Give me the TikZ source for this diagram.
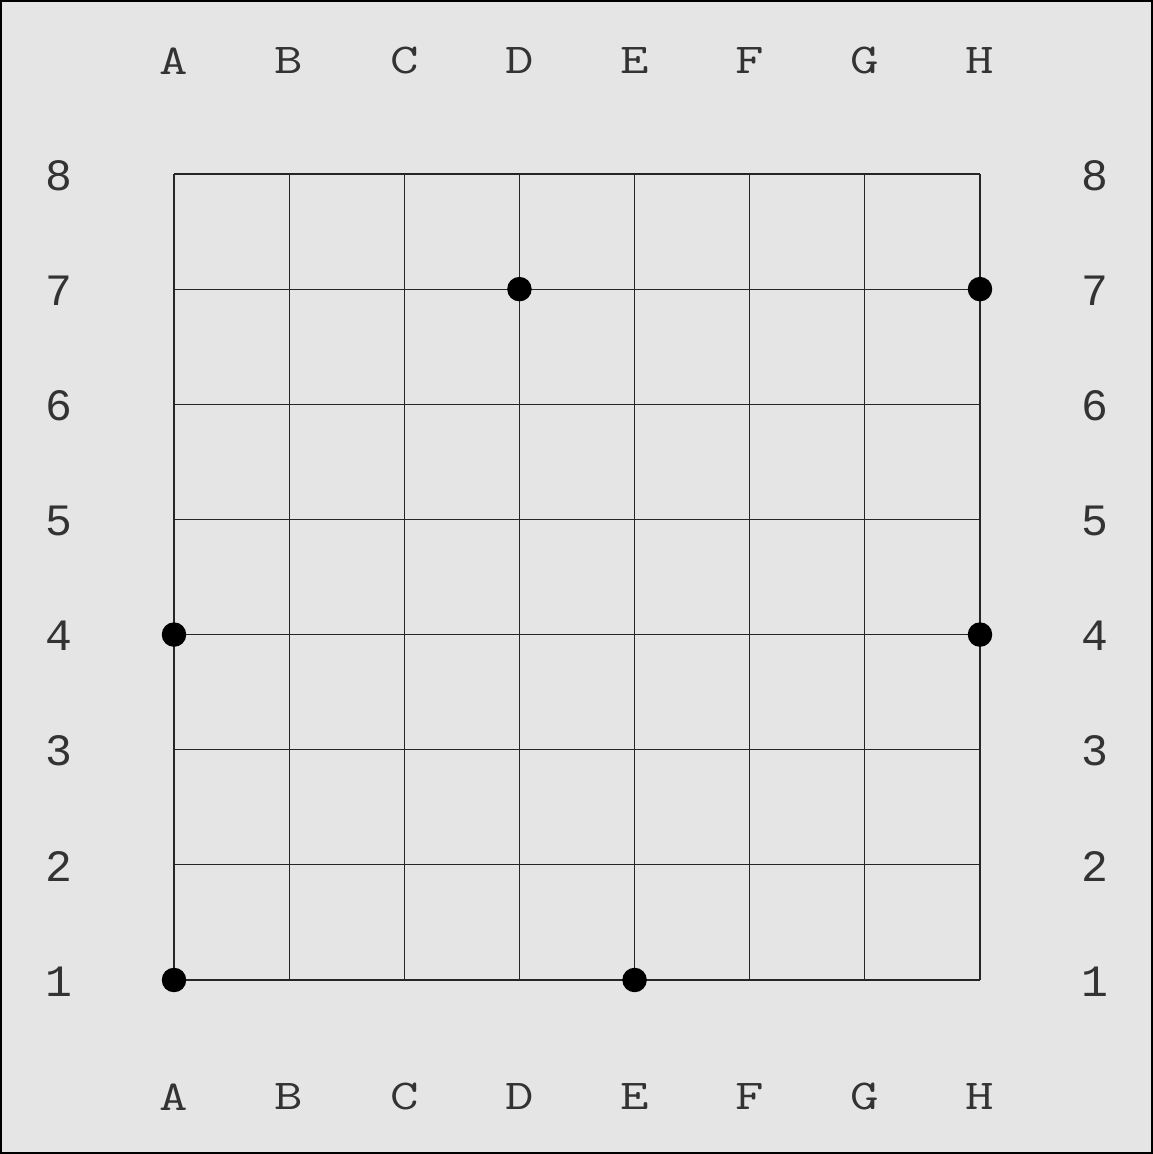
\documentclass[tikz,border=0pt]{standalone}
\usepackage{fontspec}
\newfontfamily\letterfont[FakeStretch=1.3]{Latin Modern Mono}
\newfontfamily\digitfont{Liberation Mono}
\definecolor{bg}{HTML}{E5E5E5}
\definecolor{txt}{HTML}{333333}
\begin{document}
\begin{tikzpicture}[x=0.02cm,y=0.02cm,
  lbl/.style={font=\letterfont\fontsize{24.2}{24}\selectfont, text=txt, inner sep=0pt, anchor=center},
  num/.style={font=\digitfont\fontsize{25.5}{25}\selectfont, text=txt, inner sep=0pt, anchor=center},
  gridline/.style={line width=0.6pt, draw=black!85},
  stone/.style={circle, fill=black, minimum size=24.5*0.02cm, inner sep=0pt}]
\useasboundingbox (0,0) rectangle (1153,1154);
\fill[bg] (0,0) rectangle (1153,1154);
\draw[line width=1.5pt] (0.75,0.75) rectangle (1152.25,1153.25);
% grid
\foreach \i in {0,...,7} {
  \draw[gridline] ({174+115.143*\i},174) -- ({174+115.143*\i},980);
  \draw[gridline] (174,{174+115.143*\i}) -- (980,{174+115.143*\i});
}
% labels
\foreach \c [count=\i from 0] in {A,B,C,D,E,F,G,H} {
  \node[lbl] (top\c) at ({174+115.143*\i},1093) {\c};
  \node[lbl] (bot\c) at ({174+115.143*\i},57) {\c};
}
\foreach \r in {1,...,8} {
  \node[num] (left\r) at (59,{978.5-115.143*(8-\r)}) {\r};
  \node[num] (right\r) at (1095,{978.5-115.143*(8-\r)}) {\r};
}
% stones
\node[stone] (D7) at ({174+115.143*3},{174+115.143*6}) {};
\node[stone] (H7) at ({174+115.143*7},{174+115.143*6}) {};
\node[stone] (A4) at ({174},{174+115.143*3}) {};
\node[stone] (H4) at ({174+115.143*7},{174+115.143*3}) {};
\node[stone] (A1) at ({174},{174}) {};
\node[stone] (E1) at ({174+115.143*4},{174}) {};
\end{tikzpicture}
\end{document}
